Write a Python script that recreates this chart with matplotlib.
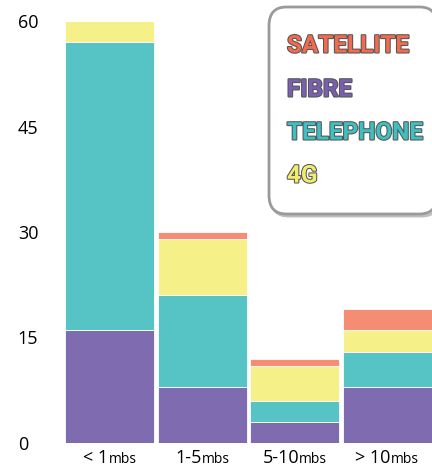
import numpy as np
import matplotlib
matplotlib.use('Agg')
import matplotlib.pyplot as plt
import matplotlib.patheffects as pe
from matplotlib.patches import FancyBboxPatch
from matplotlib.offsetbox import TextArea, HPacker, AnnotationBbox

# Data (stack order bottom -> top)
speeds = ['< 1', '1-5', '5-10', '> 10']
unit = 'mbs'
fibre = [16, 8, 3, 8]
telephone = [41, 13, 3, 5]
g4 = [3, 8, 5, 3]
satellite = [0, 1, 1, 3]
yticks = [0, 15, 30, 45, 60]

series = [('FIBRE', fibre, '#7f6bb0'),
          ('TELEPHONE', telephone, '#56c4c4'),
          ('4G', g4, '#f5f088'),
          ('SATELLITE', satellite, '#f58d75')]

plt.rcParams['font.family'] = ['Open Sans', 'DejaVu Sans']

fig = plt.figure(figsize=(4.32, 4.70), dpi=100)
ax = fig.add_axes([65 / 432, 27 / 470, 367 / 432, 422 / 470])

x = np.arange(len(speeds))
bottom = np.zeros(len(speeds))
for name, vals, col in series:
    ax.bar(x, vals, bottom=bottom, width=0.965, color=col,
           edgecolor='white', linewidth=0.6)
    bottom += np.array(vals)

ax.set_xlim(-0.485, 3.485)
ax.set_ylim(0, 60)
ax.set_yticks(yticks)
ax.set_yticklabels([str(t) for t in yticks], fontsize=13)
ax.tick_params(axis='y', length=0, pad=34)
for lab in ax.get_yticklabels():
    lab.set_horizontalalignment('left')
ax.set_xticks([])
for s in ax.spines.values():
    s.set_visible(False)

# x labels: big number + small unit
for i, sp in enumerate(speeds):
    pack = HPacker(children=[TextArea(sp, textprops=dict(fontsize=13)),
                             TextArea(unit, textprops=dict(fontsize=10))],
                   align='baseline', pad=0, sep=0)
    ab = AnnotationBbox(pack, (i, 0), xycoords=('data', 'axes fraction'),
                        xybox=(0, -11), boxcoords='offset points',
                        frameon=False, box_alignment=(0.5, 0.5))
    ax.add_artist(ab)

# legend box
box = FancyBboxPatch((269 / 432, 256 / 470), 168 / 432, 207 / 470,
                     boxstyle='round,pad=0,rounding_size=0.04',
                     transform=fig.transFigure, facecolor='white',
                     edgecolor='#9a9a9a', linewidth=2, clip_on=False,
                     path_effects=[pe.SimpleLineShadow(offset=(1.5, -1.5), alpha=0.25),
                                   pe.Normal()])
fig.add_artist(box)

leg_items = [('SATELLITE', '#f26b4e', 46),
             ('FIBRE', '#7a5fb0', 90),
             ('TELEPHONE', '#3fbfbf', 133),
             ('4G', '#f2ec6e', 176)]
for txt, col, ypx in leg_items:
    fig.text(287 / 432, 1 - ypx / 470, txt, color=col, fontsize=17.5,
             fontweight='bold', family=['Roboto', 'DejaVu Sans'],
             va='center', ha='left',
             path_effects=[pe.withStroke(linewidth=1.5, foreground='#555555')])

plt.savefig('out.png', dpi=100)
